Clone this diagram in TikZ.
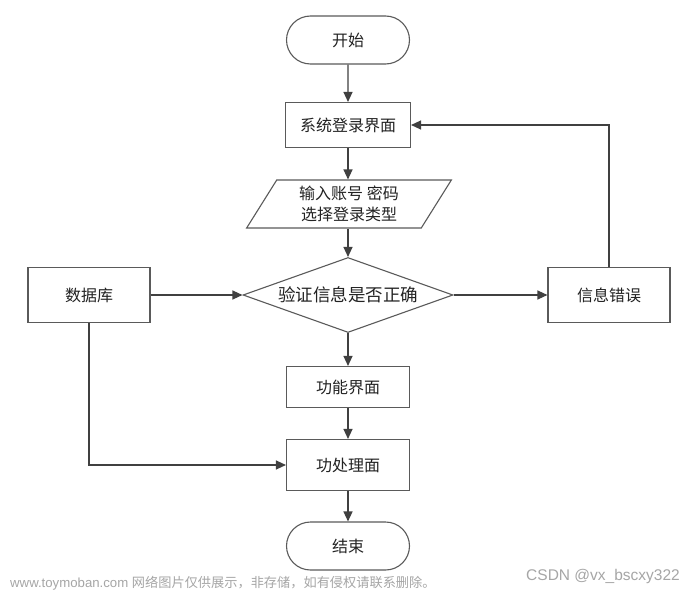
\documentclass[tikz,border=0pt]{standalone}
\usepackage{fontspec}
\setmainfont{Liberation Sans}
\newfontfamily\cjk{Noto Sans CJK SC}
\usetikzlibrary{shapes.geometric,shapes.misc,arrows.meta}
\definecolor{ln}{HTML}{404040}
\definecolor{bd}{HTML}{5A5A5A}
\definecolor{tx}{HTML}{222222}
\tikzset{
  base/.style={draw=bd,line width=1.1pt,fill=white,text=tx,font=\cjk\fontsize{16}{18}\selectfont,inner sep=0pt},
  procbox/.style={base,rectangle,minimum width=#1},
  termbox/.style={base,rounded rectangle,minimum width=123pt,minimum height=48pt},
  decbox/.style={base,diamond,aspect=2.8,minimum width=210pt,minimum height=75pt,font=\cjk\fontsize{17.5}{20}\selectfont},
  conn/.style={draw=ln,line width=1.3pt,-{Triangle[length=10pt,width=9pt]}},
  wm/.style={text=gray!70,inner sep=0pt}
}
\begin{document}
\begin{tikzpicture}[x=1pt,y=-1pt]
\useasboundingbox[fill=white] (0,0) rectangle (691,594);
\node[termbox] (start) at (348,40) {开始};
\node[procbox=125pt,minimum height=45pt] (login) at (348,125) {系统登录界面};
\node[base,trapezium,trapezium left angle=60,trapezium right angle=120,trapezium stretches=true,minimum width=205pt,minimum height=48pt,align=center] (input) at (349,204) {输入账号 密码\\[3pt]选择登录类型};
\node[decbox] (check) at (348,295) {验证信息是否正确};
\node[procbox=122pt,minimum height=55pt] (db) at (89,295) {数据库};
\node[procbox=122pt,minimum height=55pt] (err) at (609,295) {信息错误};
\node[procbox=123pt,minimum height=41pt] (func) at (348,387) {功能界面};
\node[procbox=123pt,minimum height=51pt] (proc) at (348,465) {功处理面};
\node[termbox] (end) at (348,546) {结束};
\coordinate (errtop) at (609,125);
\coordinate (dbcorner) at (89,465);
\draw[conn] (start) -- (login);
\draw[conn] (login) -- (login|-input.north);
\draw[conn] (input.south-|check) -- (check);
\draw[conn] (db) -- (check);
\draw[conn] (check) -- (err);
\draw[conn] (check) -- (func);
\draw[conn] (func) -- (proc);
\draw[conn] (proc) -- (end);
\draw[conn] (err.north) -- (errtop) -- (login.east);
\draw[conn] (db.south) -- (dbcorner) -- (proc.west);
\node[wm,anchor=west,font=\fontsize{13.2}{15}\selectfont] (wm1) at (10,583) {www.toymoban.com {\cjk 网络图片仅供展示，非存储，如有侵权请联系删除。}};
\node[wm,anchor=east,font=\fontsize{15.5}{17}\selectfont] (wm2) at (680,576) {CSDN @vx\_bscxy322};
\end{tikzpicture}
\end{document}
